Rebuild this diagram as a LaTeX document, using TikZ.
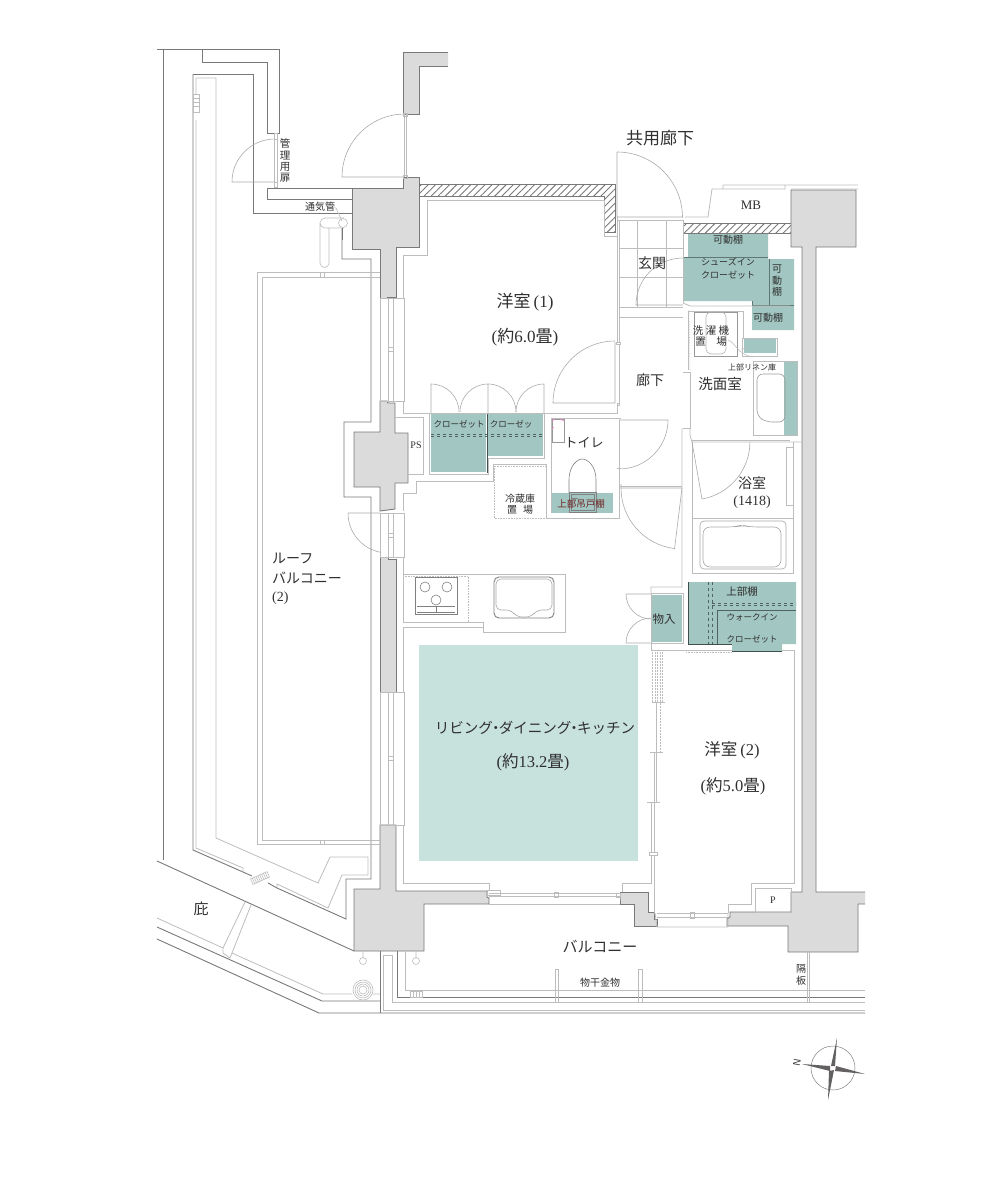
\documentclass[tikz,border=0pt]{standalone}
\usepackage{fontspec}
\setmainfont{Liberation Serif}
\newfontfamily\jpf{Noto Sans CJK JP}
\usetikzlibrary{patterns.meta}
\definecolor{teal1}{HTML}{A2C6C1}
\definecolor{teal2}{HTML}{C7E1DD}
\definecolor{wallg}{HTML}{DBDBDB}
\definecolor{dk}{HTML}{7A7878}
\definecolor{lt}{HTML}{BDBDBD}
\definecolor{tx}{HTML}{2F2F2F}
\tikzset{
 dl/.style={draw=dk,line width=0.9pt,line join=miter},
 ll/.style={draw=lt,line width=0.8pt},
 wall/.style={fill=wallg,draw=dk,line width=0.9pt},
 tealbox/.style={fill=teal1,draw=none},
 tf/.style={draw=lt,line width=0.6pt},
 hatchbox/.style={draw=dk,line width=0.8pt,pattern={Lines[angle=45,distance=5pt,line width=0.9pt]},pattern color=dk},
 arcl/.style={draw=lt!90!black,line width=0.6pt},
 lab/.style={inner sep=0pt,text=tx,align=center}
}
\newcommand\lbl[4]{\node[lab] (#1) at (#2) {\fontsize{#3}{#3}\selectfont\jpf #4};}
\newcommand\lat[1]{{\rmfamily #1}}
\newcommand\nd{\hspace{-.3em}・\hspace{-.3em}}
\begin{document}
\begin{tikzpicture}[x=1pt,y=-1pt]
\useasboundingbox (0,0) rectangle (1000,1200);
% LDK tint
\fill[teal2] (419,645) rectangle (638,861);
% teal areas
\fill[tealbox] (431,414) rectangle (486,472);
\fill[tealbox] (488,414) rectangle (543,456);
\fill[tealbox] (552,493) rectangle (613,513);
\fill[tealbox] (688,233) -- (768,233) -- (768,259) -- (794,259) -- (794,330) -- (752,330) -- (752,301) -- (684,301) -- (684,257) -- (688,257) -- cycle;
\fill[tealbox] (744,339) rectangle (776,353);
\fill[tealbox] (784,361) rectangle (797,435);
\fill[tealbox] (688,582) -- (796,582) -- (796,644) -- (782,644) -- (782,651) -- (732,651) -- (732,644) -- (688,644) -- cycle;
\fill[tealbox] (652,595) rectangle (682,642);
% teal inner lines
\draw[draw=teal1!60!black,line width=0.5pt] (684,257) -- (768,257) (769,259) -- (769,305) -- (794,305) (752,301) -- (752,305) -- (769,305);
\draw[draw=teal1!50!black,line width=0.5pt,dashed] (431,434) -- (543,434) (431,436) -- (543,436);
\draw[draw=teal1!50!black,line width=0.5pt,dashed] (708,582) -- (708,644) (712,582) -- (712,644) (712,603) -- (796,603) (712,605) -- (796,605);
\draw[draw=teal1!50!black,line width=0.6pt] (796,610) -- (717,610) -- (717,644);
\draw[draw=teal1!40!black,line width=0.6pt] (487,414) -- (487,473) (732,651) -- (782,651) (688,582) -- (688,644) -- (732,644);
% hatch
\draw[hatchbox] (419,184) -- (615,184) -- (615,232) -- (604,232) -- (604,196) -- (419,196) -- cycle;
\draw[hatchbox] (683,223) rectangle (791,233);
% walls
\draw[wall] (352,188) -- (403,188) -- (403,177) -- (419,177) -- (419,247) -- (396,247) -- (396,297) -- (387,297) -- (387,298) -- (380,298) -- (380,249) -- (352,249) -- cycle;
\fill[wallg] (403,52) -- (448,52) -- (448,66) -- (419,66) -- (419,114) -- (403,114) -- cycle;
\draw[dl] (448,52) -- (403,52) -- (403,114) -- (419,114) -- (419,66) -- (448,66);
\draw[wall] (380,401) -- (387,401) -- (388,403) -- (395,403) -- (395,433) -- (408,433) -- (408,483) -- (395,483) -- (395,509) -- (380,511) -- (380,487) -- (354,487) -- (354,432) -- (380,432) -- cycle;
\draw[wall] (380,557) -- (388,557) -- (388,559) -- (396,559) -- (396,692) -- (380,692) -- cycle;
\draw[wall] (380,825) -- (396,825) -- (396,891) -- (487,891) -- (487,897) -- (489,898) -- (489,904) -- (424,904) -- (424,951) -- (354,951) -- (354,889) -- (380,889) -- cycle;
\draw[wall] (620,892) -- (648,892) -- (648,912) -- (654,912) -- (654,919) -- (657,919) -- (657,926) -- (634,926) -- (634,904) -- (620,904) -- (620,898) -- cycle;
\fill[wallg] (791,190) -- (856,190) -- (856,247) -- (816,247) -- (816,892) -- (865,892) -- (865,904) -- (858,904) -- (858,952) -- (788,952) -- (788,926) -- (727,926) -- (727,919) -- (730,917) -- (730,912) -- (791,912) -- (791,892) -- (802,892) -- (802,247) -- (791,247) -- cycle;
\draw[dl] (791,247) -- (791,190) -- (856,190) -- (856,247) -- (816,247) -- (816,892) -- (865,892) (865,904) -- (858,904) -- (858,952) -- (788,952) -- (788,926) -- (727,926) -- (727,919) -- (730,917) -- (730,912) -- (791,912) -- (791,892) -- (802,892) -- (802,247) -- (791,247);
% roof balcony dark lines
\draw[dl] (157,49) -- (279,49) -- (279,133) -- (267,133) -- (267,62) -- (202,62) -- (202,49);
\draw[dl] (163,49) -- (163,860);
\draw[dl] (193,74) -- (193,850) -- (243,872) (277,888) -- (346,919) -- (346,879) -- (371,879) -- (371,497) -- (344,497) -- (344,422) -- (371,422) -- (371,259) -- (342,259) -- (342,228);
\draw[dl] (193,74) -- (253,74) -- (253,213) -- (352,213);
\draw[dl] (352,188) -- (267,188) -- (267,199) -- (352,199);
\draw[dl] (157,861) -- (354,951);
\draw[dl] (243,872) -- (252,876) (268,883) -- (277,888);
% light balcony
\draw[ll] (196,120) -- (196,848) -- (243,868) -- (243,872);
\draw[ll] (196,78) -- (196,94) (196,78) -- (216,78) -- (216,838) -- (318,883) -- (330,857) -- (368,857) -- (368,875) -- (342,875) -- (328,908) -- (277,884) -- (277,887);
\draw[tf] (193,94) rectangle (199,112) (193,98) -- (199,98) (193,102) -- (199,102) (193,106) -- (199,106);
\draw[ll] (380,272) -- (257,272) -- (257,844) -- (380,844) (380,277) -- (262,277) -- (262,840) -- (380,840);
\draw[ll] (320,272) -- (320,277) (324,272) -- (324,277) (320,840) -- (320,844) (324,840) -- (324,844);
\begin{scope}[rotate around={24:(260,878)}]
\draw[tf,fill=white] (251,875) rectangle (269,881);
\foreach \i in {253,255,...,267}{\draw[tf] (\i,875) -- (\i,881);}
\end{scope}
% eaves and lower lines
\node (e1) at (201,909) [lab] {\fontsize{15}{15}\selectfont\jpf 庇};
\draw[ll] (157,918) -- (223,948) (232,953) -- (323,994) -- (352,994) (373,994) -- (380,994);
\draw[dl] (157,927) -- (322,1001) -- (380,1001);
\draw[dl] (157,939) -- (319,1013) -- (865,1013);
\draw[ll] (245,902) -- (223,948) -- (223,953) -- (230,958) -- (232,953) -- (251,905);
\foreach \r in {10,8,6,4}{\draw[tf] (363,990) circle (\r);}
\draw[tf] (363,951) -- (363,958) (363,961) circle (3.5) (416,951) -- (416,958) (416,961) circle (3.5);
\draw[dl] (380,951) -- (380,1013);
\draw[dl] (397,951) -- (397,997) -- (865,997);
\draw[ll] (405,951) -- (405,990) -- (865,990);
\draw[ll] (392,955) -- (383,955) -- (383,1010) -- (865,1010);
\draw[ll] (392,955) -- (392,1002) -- (865,1002);
\draw[tf,fill=white] (410,991) rectangle (422,997) (413,991) -- (413,997) (416,991) -- (416,997) (419,991) -- (419,997);
\draw[tf] (555,1002) -- (555,969) -- (558,969) -- (558,1002) (638,1002) -- (638,969) -- (642,969) -- (642,1002) (807,952) -- (807,1002) -- (809,1002) -- (809,952);
% doors upper left
\draw[arcl] (405,114) arc (-90:-180:63) -- (403,177);
\draw[tf] (404,114) -- (404,177) (406,114) -- (406,177) (403,113) rectangle (407,116) (403,175) rectangle (407,178);
\draw[arcl] (275,139) arc (-90:-180:43) -- (275,182);
\draw[tf] (274,135) -- (274,186) (277,135) -- (277,186) (274,133) rectangle (277,139) (274,182) rectangle (277,187);
% vent
\draw[tf] (325,228) arc (90:270:5) -- (344,218) (344,228) -- (325,228) (320,223) -- (320,263) arc (180:0:4.5) -- (329,228);
\draw[tf] (343,223) circle (4.5);
\draw[dl,draw=dk] (342,228) -- (342,240);
\draw[tf] (328,207) -- (336,208) -- (342,221);
% windows along the long wall
\foreach \a/\b/\m in {298/401/349,513/557/535,692/825/758}{
\draw[ll] (380,\a) rectangle (404,\b);
\draw[draw=lt,line width=1pt] (388.5,\a) -- (388.5,\b) (393,\a) -- (393,\b);
\draw[tf,fill=white] (388,\m-2) rectangle (393,\m+2);
}
\draw[arcl] (348,513) -- (380,513) (348,513) arc (180:100:40);
% rooms: light walls
\draw[ll] (604,200) -- (427,200) -- (427,255) -- (403,255) -- (403,298);
\draw[ll] (604,200) -- (604,236) -- (617,236) -- (617,342);
\draw[ll] (403,401) -- (403,413) -- (617,413) -- (617,403);
\draw[ll] (395,417) -- (423,417) -- (423,474) -- (408,474);
\draw[ll] (429,413) -- (429,474) -- (488,474) -- (488,458) -- (544,458) -- (544,413);
\draw[ll] (403,511) -- (403,493) -- (416,493) -- (416,481) -- (493,481) -- (493,464) -- (546,464) -- (546,518) -- (619,518) -- (619,420);
\draw[ll] (403,557) -- (403,622) -- (483,622) -- (483,632) -- (565,632) -- (565,574) -- (403,574);
\draw[ll] (483,627) -- (403,627) -- (403,692);
\draw[ll] (403,825) -- (403,883) -- (489,883) -- (489,890);
\draw[draw=lt,line width=0.6pt,densely dotted] (403,576) -- (468,576) -- (468,622);
\draw[draw=lt,line width=0.6pt,densely dotted] (494,466) rectangle (546,518);
% closet doors
\draw[arcl] (431,413) -- (431,384) arc (-90:0:28);
\draw[arcl] (488,413) -- (488,384) arc (-90:-180:28);
\draw[arcl] (488,384) arc (-90:0:28);
\draw[arcl] (544,413) -- (544,384) arc (-90:-180:28);
% door room 1
\draw[arcl] (553,403) arc (180:270:62) (553,403) -- (615,403) (615,342) -- (615,403);
\draw[ll] (617,403) rectangle (619,405);
% toilet
\draw[ll] (551,513) -- (551,418) -- (619,418);
\draw[tf,draw=lt!80!black] (552,419) rectangle (564,442);
\draw[tf,draw=magenta!50] (552,421) -- (555,419) (560,419) -- (564,421) (552,429) -- (554,427);
\draw[tf,draw=gray] (569,493) -- (569,480) .. controls (569,465) and (578,459) .. (582,459) .. controls (587,459) and (596,465) .. (596,480) -- (596,493);
\draw[tf,draw=gray] (569,492) rectangle (596,512) (571,494) rectangle (594,510) (571,498) -- (578,498);
\draw[arcl] (619,420) -- (668,420) arc (0:90:49);
\draw[ll] (617,468) -- (621,468);
\draw[ll] (617,418) -- (621,418);
% door to bath corridor
\draw[arcl] (621,484) -- (621,488) -- (682,488) (621,488) arc (180:97:61) -- (682,488);
\draw[ll] (619,486) -- (682,486);
% entry
\draw[ll] (617,236) -- (617,217) (619,236) -- (619,221);
\draw[arcl] (617,152) -- (617,217) -- (683,217) (617,152) arc (-90:0:65.5);
\draw[ll] (617,220) -- (683,220) -- (683,303);
\draw[ll] (685,217) -- (708,217) -- (712,189) -- (723,189) -- (723,185) -- (785,185) -- (785,189) -- (723,189) (785,185) -- (858,185) (791,189) -- (858,189);
\draw[tf] (619,248) -- (683,248) (619,277) -- (683,277) (619,307) -- (683,307) (637,221) -- (637,307) (666,221) -- (666,307);
\draw[ll] (619,236) -- (619,318) (619,317) -- (683,317);
\draw[arcl] (683,258) arc (-90:-180:47) -- (683,305);
% corridor side
\draw[ll] (619,318) -- (619,342) (616,342) rectangle (620,344);
\draw[ll] (619,344) -- (619,403);
\draw[ll] (683,303) -- (690,306) -- (790,306);
\draw[draw=lt,line width=0.6pt,densely dotted] (689,310) -- (690,370);
\draw[ll] (683,372) -- (690,372) -- (690,428) -- (683,428);
\draw[ll] (682,428) -- (682,587) -- (651,587) -- (651,593) (690,428) -- (690,435) -- (692,442) -- (802,442);
\draw[ll] (692,440) -- (790,440);
% laundry
\draw[ll] (688,311) -- (743,311) -- (743,339) (688,311) -- (688,370);
\draw[tf,draw=gray!80] (694,312) rectangle (737,356);
\draw[tf,draw=gray!60,rounded corners=5pt] (706,312) rectangle (726,354);
\draw[tf] (742,338) rectangle (777,356);
\draw[tf] (728,340) .. controls (735,342) and (738,355) .. (753,357) (741,349) -- (747,349);
% linen and vanity
\draw[tf] (753,361) rectangle (797,435);
\draw[tf,draw=gray!80,rounded corners=6pt] (757,374) -- (785,374) -- (785,422) -- (766,422) -- (757,416) -- cycle;
% bathroom
\draw[ll] (692,442) -- (692,573) -- (793,573) -- (793,442);
\draw[ll] (692,518) -- (793,518);
\draw[tf] (786,505) -- (786,447) -- (793,447) (786,505) -- (793,505);
\draw[arcl] (692,442) -- (702,499) arc (80:0:58);
\draw[tf,draw=gray!70,rounded corners=4pt] (700,521) rectangle (786,569);
\draw[tf,draw=gray!70,rounded corners=7pt] (703,527) -- (735,527) -- (742,525) -- (750,527) -- (781,527) -- (781,567) -- (703,567) -- cycle;
% kitchen appliances
\draw[tf,draw=gray,line width=1pt] (415,577) rectangle (457,614);
\draw[tf,draw=gray] (417,606) -- (455,606) (436,606) -- (436,612) (417,612) -- (455,612);
\draw[tf,draw=gray] (425,587) circle (5) (447,587) circle (5) (436,600) circle (5);
\draw[tf,draw=gray,line width=0.9pt,rounded corners=5pt] (494,577) rectangle (554,618);
\draw[tf,draw=gray!70,rounded corners=5pt] (496,579) -- (552,579) -- (552,610) -- (537,610) -- (531,617) -- (517,617) -- (511,610) -- (496,610) -- cycle;
% room 2
\draw[ll] (651,643) -- (651,650) -- (732,650) (782,650) -- (794,650) -- (794,883) -- (751,883) -- (751,904) -- (728,904) -- (728,913);
\draw[draw=lt,line width=0.6pt,densely dotted] (686,652) -- (732,652);
\draw[draw=lt,line width=0.5pt,densely dotted] (652,650) -- (652,702) (655,650) -- (655,702) (657,650) -- (657,702) (660,650) -- (660,752) (662,650) -- (662,702);
\draw[ll] (656,702) -- (656,802) (652,702) -- (662,702);
\draw[ll] (654,752) -- (654,913) (651,802) -- (651,883) -- (622,883) -- (622,892);
\draw[tf] (656,702) -- (665,702) (650,752) -- (663,752) (647,802) -- (660,802);
\draw[tf,fill=white] (649,852) rectangle (657,855);
\draw[ll] (755,888) rectangle (791,912);
% storage doors
\draw[ll] (651,593) rectangle (683,643);
\draw[arcl] (651,594) -- (626,594) arc (180:90:25);
\draw[arcl] (651,643) -- (626,643) arc (180:270:25);
% windows south
\draw[tf] (489,893) -- (620,893) (489,896) -- (620,896) (554,892) rectangle (558,897);
\draw[ll] (489,904) -- (620,904);
\draw[tf] (487,890) rectangle (500,895) (616,893) rectangle (620,897);
\draw[tf] (657,913) -- (728,913) (657,917) -- (728,917) (690,912) rectangle (694,918);
\draw[ll] (657,927) -- (728,927) (655,913) -- (657,927) (728,913) -- (728,927);
% text
\lbl{t1}{660,138}{17}{共用廊下}
\lbl{t2}{751,205}{13}{\lat{MB}}
\lbl{t3}{652,263}{14}{玄関}
\lbl{t4}{728,240}{10}{可動棚}
\lbl{t5}{728,262}{9}{シューズイン}
\lbl{t6}{728,275}{9}{クローゼット}
\lbl{t7a}{777,269}{10}{可}
\lbl{t7b}{777,281}{10}{動}
\lbl{t7c}{777,292}{10}{棚}
\lbl{t8}{768,318}{10}{可動棚}
\lbl{t9}{525,302}{17}{洋室\hspace{3pt}\lat{(1)}}
\lbl{t10}{525,337}{17}{\lat{(}約\lat{6.0}畳\lat{)}}
\lbl{t11}{650,380}{14}{廊下}
\lbl{t12}{720,384}{14.5}{洗面室}
\lbl{t13}{711,331}{10.5}{洗 濯 機}
\lbl{t14}{711,342}{10.5}{置\hspace{1em}場}
\lbl{t15}{752,367}{8}{上部リネン庫}
\lbl{t16}{459,424}{8.5}{クローゼット}
\lbl{t17}{511,424}{8.5}{クローゼッ}
\lbl{t18}{416,445}{10}{\lat{PS}}
\lbl{t19}{584,443}{13}{トイレ}
\lbl{t20}{581,504}{9.5}{\textcolor{red!30!tx}{上部吊戸棚}}
\lbl{t21}{520,499}{10}{冷蔵庫}
\lbl{t22}{520,510}{10}{置\hspace{0.6em}場}
\lbl{t23}{752,483}{14}{浴室}
\lbl{t24}{752,502}{14}{\lat{(1418)}}
\lbl{t25}{742,592}{10.5}{上部棚}
\lbl{t26}{752,617}{8.5}{ウォークイン}
\lbl{t27}{752,639}{8.5}{クローゼット}
\lbl{t28}{664,619}{11.5}{物入}
\lbl{t29}{535,728}{14.5}{リビング\nd ダイニング\nd キッチン}
\lbl{t30}{533,762}{16.5}{\lat{(}約\lat{13.2}畳\lat{)}}
\lbl{t31}{732,750}{16.5}{洋室\hspace{3pt}\lat{(2)}}
\lbl{t32}{733,786}{16.5}{\lat{(}約\lat{5.0}畳\lat{)}}
\node[lab,anchor=west] (t33a) at (272,558) {\fontsize{14}{14}\selectfont\jpf ルーフ};
\node[lab,anchor=west] (t33b) at (272,578) {\fontsize{14}{14}\selectfont\jpf バルコニー};
\node[lab,anchor=west] (t33c) at (272,598) {\fontsize{14}{14}\selectfont\rmfamily (2)};
\lbl{t34}{600,947}{15}{バルコニー}
\lbl{t35}{600,983}{10}{物干金物}
\lbl{t36}{801,969}{10}{隔}
\lbl{t37}{801,981}{10}{板}
\lbl{t38}{773,900}{10}{\lat{P}}
\lbl{t39}{320,207}{10}{通気管}
\lbl{t40}{285,143}{10.5}{管}
\lbl{t41}{285,156}{10.5}{理}
\lbl{t42}{285,167}{10.5}{用}
\lbl{t43}{285,178}{10.5}{扉}
% compass
\draw[draw=gray,line width=0.5pt] (833,1068) circle (22);
\fill[draw=none,fill=dk!80!black] (837,1038) -- (835,1066) -- (831,1066) -- cycle
 (865,1074) -- (835,1071) -- (836,1066) -- cycle
 (828,1100) -- (829,1071) -- (834,1070) -- cycle
 (802,1064) -- (830,1066) -- (830,1071) -- cycle;
\node[lab,rotate=-100] (nn) at (797,1063) {\fontsize{10}{10}\selectfont\sffamily N};
\end{tikzpicture}
\end{document}
